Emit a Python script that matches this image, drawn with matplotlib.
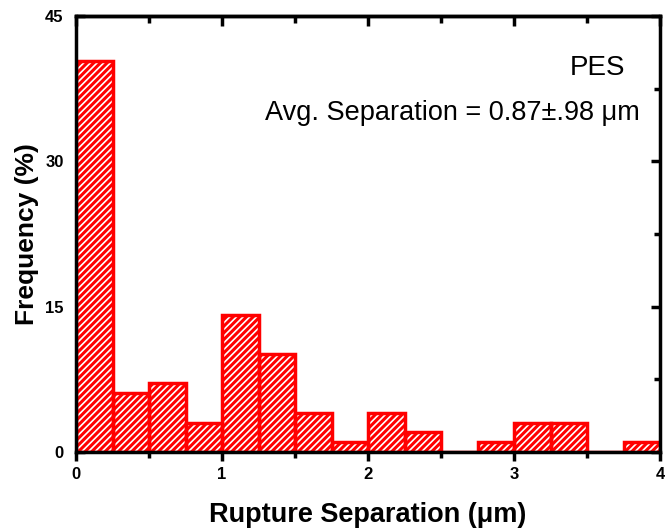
import numpy as np
import matplotlib.pyplot as plt
from matplotlib.ticker import MultipleLocator

plt.rcParams['font.family'] = ['Liberation Sans', 'DejaVu Sans']

# histogram of rupture separation, bins of 0.25 um
bin_edges = [0.0, 0.25, 0.5, 0.75, 1.0, 1.25, 1.5, 1.75, 2.0, 2.25, 2.5,
             2.75, 3.0, 3.25, 3.5, 3.75, 4.0]
freq = [40.4, 6.06, 7.07, 3.03, 14.14, 10.1, 4.04, 1.01, 4.04, 2.02, 0.0,
        1.01, 3.03, 3.03, 0.0, 1.01]

left = np.array(bin_edges[:-1])
width = np.diff(bin_edges)

fig = plt.figure(figsize=(6.65, 5.31), dpi=100)
ax = fig.add_axes([0.1143, 0.1488, 0.8782, 0.8211])

# hatched fill (white lines on red), then red outline on top
plt.rcParams['hatch.linewidth'] = 1.2
ax.bar(left, freq, width=width, align='edge', color='#ff0000',
       edgecolor='white', hatch='/////', linewidth=0, zorder=2)
ax.bar(left, freq, width=width, align='edge', fill=False,
       edgecolor='#ff0000', linewidth=2.5, zorder=3)

ax.set_xlim(0, 4)
ax.set_ylim(0, 45)
ax.xaxis.set_major_locator(MultipleLocator(1))
ax.xaxis.set_minor_locator(MultipleLocator(0.5))
ax.yaxis.set_major_locator(MultipleLocator(15))
ax.yaxis.set_minor_locator(MultipleLocator(7.5))

for s in ax.spines.values():
    s.set_linewidth(2.5)
    s.set_zorder(4)

ax.tick_params(axis='x', which='both', direction='out', top=False,
               width=2.5, labelsize=12, pad=4)
ax.tick_params(axis='x', which='major', length=6.5)
ax.tick_params(axis='x', which='minor', length=4)
ax.tick_params(axis='y', which='both', direction='in', right=True,
               width=2.5, labelsize=12, pad=9)
ax.tick_params(axis='y', which='major', length=6.5)
ax.tick_params(axis='y', which='minor', length=4)

# top axis: inward ticks without labels
sec = ax.secondary_xaxis('top')
sec.xaxis.set_major_locator(MultipleLocator(1))
sec.xaxis.set_minor_locator(MultipleLocator(0.5))
sec.tick_params(which='both', direction='in', width=2.5, labeltop=False)
sec.tick_params(which='major', length=7)
sec.tick_params(which='minor', length=5)
sec.spines['top'].set_linewidth(2.5)

for lab in ax.get_xticklabels() + ax.get_yticklabels():
    lab.set_fontweight('bold')

ax.set_xlabel('Rupture Separation (μm)', fontsize=19.5, fontweight='bold',
              labelpad=15)
ax.set_ylabel('Frequency (%)', fontsize=19, fontweight='bold', labelpad=4)

ax.text(0.94, 0.88, 'PES', transform=ax.transAxes, ha='right', va='center',
        fontsize=20)
ax.text(0.966, 0.778, 'Avg. Separation = 0.87±.98 μm', transform=ax.transAxes,
        ha='right', va='center', fontsize=19.5)

fig.savefig('out.png', dpi=100)
